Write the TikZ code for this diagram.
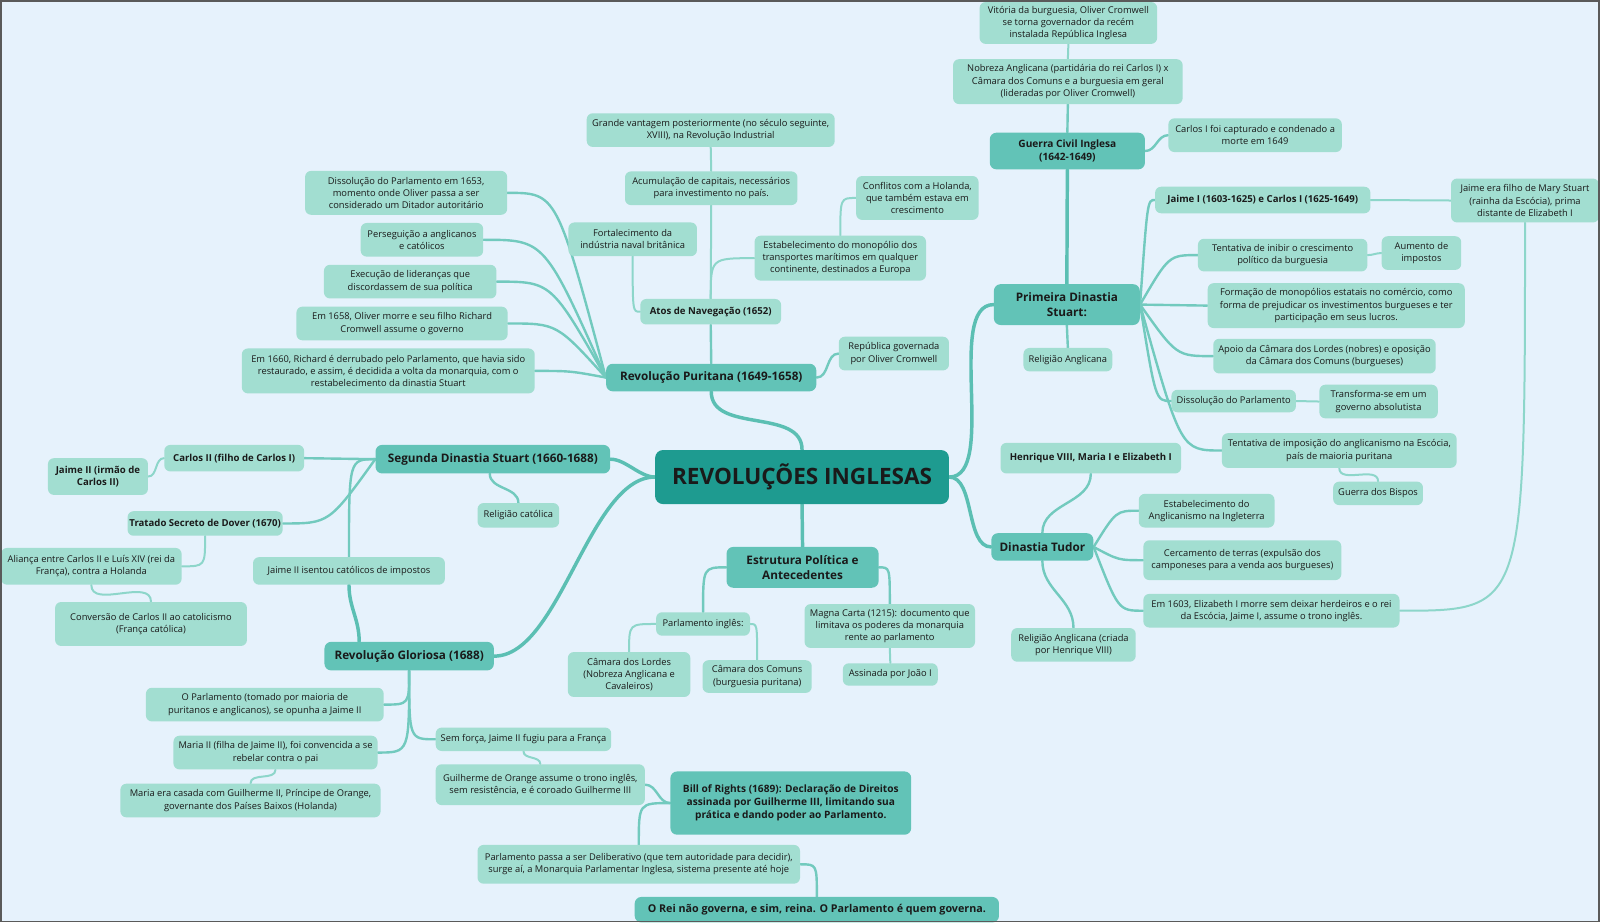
\documentclass[tikz,border=0pt]{standalone}
\usepackage{fontspec}
\setmainfont{Open Sans}
\usetikzlibrary{calc}
\definecolor{bgc}{HTML}{E6F2FC}
\definecolor{rootc}{HTML}{1E9B90}
\definecolor{mainc}{HTML}{62C3B7}
\definecolor{leafc}{HTML}{A2DED1}
\definecolor{lroot}{HTML}{5BBFB3}
\definecolor{lmain}{HTML}{72CABE}
\definecolor{lleaf}{HTML}{8DD6CA}
\definecolor{txt}{HTML}{1A1A1A}
\definecolor{framec}{HTML}{5A5A5A}
\pgfdeclarelayer{back}
\pgfdeclarelayer{lines}
\pgfsetlayers{back,lines,main}
\tikzset{
  sz/.style 2 args={minimum width={#1*0.7653pt}, minimum height={#2*0.7653pt}},
  box/.style={inner sep=0pt, align=center, text=txt},
  leaf/.style={box, fill=leafc, rounded corners=4.5pt, font=\fontsize{7}{9.2}\selectfont},
  leafb/.style={leaf, font=\fontsize{7.2}{9.4}\selectfont\bfseries},
  mainn/.style={box, fill=mainc, rounded corners=5pt, font=\fontsize{8.8}{11}\selectfont\bfseries},
  mainsb/.style={mainn, font=\fontsize{7.6}{9.8}\selectfont\bfseries},
  rootn/.style={box, fill=rootc, rounded corners=6pt, font=\fontsize{16.9}{20}\selectfont\bfseries},
  l0/.style={draw=lroot, line width=2.6pt, line cap=round},
  l1/.style={draw=lmain, line width=1.8pt, line cap=round},
  l2/.style={draw=lleaf, line width=1.5pt, line cap=round},
  vh/.style={to path={.. controls (\tikztostart |- \tikztotarget) .. (\tikztotarget) \tikztonodes}},
  hv/.style={to path={.. controls (\tikztotarget |- \tikztostart) .. (\tikztotarget) \tikztonodes}},
  xm/.style={to path={let \p1=(\tikztostart), \p2=(\tikztotarget) in .. controls ({0.5*\x1+0.5*\x2},\y2) .. (\tikztotarget) \tikztonodes}},
}
\begin{document}
\begin{tikzpicture}[x=0.7653pt,y=-0.7653pt]
\begin{pgfonlayer}{back}
\fill[bgc] (0,0) rectangle (1568,904);
\end{pgfonlayer}
\useasboundingbox (0,0) rectangle (1568,904);

% root
\node[rootn, sz={288}{53}] (root) at (786,467.5) {REVOLUÇÕES INGLESAS};

% main topics
\node[mainn, sz={206}{27}] (rp) at (697,370) {Revolução Puritana (1649-1658)};
\node[mainn, sz={230}{28}] (sds) at (483,450) {Segunda Dinastia Stuart (1660-1688)};
\node[mainn, sz={166}{28}] (rg) at (401,643) {Revolução Gloriosa (1688)};
\node[mainn, sz={149}{40}] (est) at (786.5,556) {Estrutura Política e\\Antecedentes};
\node[mainn, sz={100}{27}] (tud) at (1021.5,536) {Dinastia Tudor};
\node[mainn, sz={143}{40}] (pds) at (1045.5,298.5) {Primeira Dinastia\\Stuart:};
\node[mainsb, sz={152}{36}] (gci) at (1046,148) {Guerra Civil Inglesa\\(1642-1649)};
\node[mainsb, sz={236}{62}] (bill) at (775,787) {Bill of Rights (1689): Declaração de Direitos\\assinada por Guilherme III, limitando sua\\prática e dando poder ao Parlamento.};
\node[mainsb, sz={357}{25}, font=\fontsize{8.05}{9.8}\selectfont\bfseries] (rei) at (800.5,891.5) {O Rei não governa, e sim, reina. O Parlamento é quem governa.};

% Revolucao Puritana
\node[leafb, sz={138}{25}] (atos) at (696.5,305.5) {Atos de Navegação (1652)};
\node[leaf, sz={169}{33}] (acum) at (697,184.5) {Acumulação de capitais, necessários\\para investimento no país.};
\node[leaf, sz={243}{33}] (grande) at (696.5,127.5) {Grande vantagem posteriormente (no século seguinte,\\XVIII), na Revolução Industrial};
\node[leaf, sz={126}{33}] (fort) at (620,234.5) {Fortalecimento da\\indústria naval britânica};
\node[leaf, sz={168}{44}] (estm) at (823.5,253) {Estabelecimento do monopólio dos\\transportes marítimos em qualquer\\continente, destinados a Europa};
\node[leaf, sz={120}{43}] (conf) at (899,194) {Conflitos com a Holanda,\\que também estava em\\crescimento};
\node[leaf, sz={108}{33}] (rep) at (876,346.5) {República governada\\por Oliver Cromwell};
\node[leaf, sz={198}{43}] (diss) at (398,189) {Dissolução do Parlamento em 1653,\\momento onde Oliver passa a ser\\considerado um Ditador autoritário};
\node[leaf, sz={120}{33}] (pers) at (413.5,235) {Perseguição a anglicanos\\e católicos};
\node[leaf, sz={169}{33}] (exec) at (402,276) {Execução de lideranças que\\discordassem de sua política};
\node[leaf, sz={207}{33}] (em58) at (394,317) {Em 1658, Oliver morre e seu filho Richard\\Cromwell assume o governo};
\node[leaf, sz={287}{44}] (em60) at (380.5,363.5) {Em 1660, Richard é derrubado pelo Parlamento, que havia sido\\restaurado, e assim, é decidida a volta da monarquia, com o\\restabelecimento da dinastia Stuart};

% Segunda Dinastia Stuart
\node[leafb, sz={137}{26}] (c2) at (229.5,449) {Carlos II (filho de Carlos I)};
\node[leafb, sz={98}{36}] (j2) at (96,467) {Jaime II (irmão de\\Carlos II)};
\node[leafb, sz={152}{24}] (trat) at (201,513) {Tratado Secreto de Dover (1670)};
\node[leaf, sz={177}{36}] (alia) at (89.5,555) {Aliança entre Carlos II e Luís XIV (rei da\\França), contra a Holanda};
\node[leaf, sz={188}{43}] (conv) at (148,611.5) {Conversão de Carlos II ao catolicismo\\(França católica)};
\node[leaf, sz={188}{27}] (isen) at (342,559.5) {Jaime II isentou católicos de impostos};
\node[leaf, sz={80}{24}] (relc) at (508,505) {Religião católica};

% Revolucao Gloriosa
\node[leaf, sz={233}{33}] (opar) at (259.5,690.5) {O Parlamento (tomado por maioria de\\puritanos e anglicanos), se opunha a Jaime II};
\node[leaf, sz={200}{33}] (mar2) at (270,737.5) {Maria II (filha de Jaime II), foi convencida a se\\rebelar contra o pai};
\node[leaf, sz={255}{33}] (marc) at (245.5,784.5) {Maria era casada com Guilherme II, Príncipe de Orange,\\governante dos Países Baixos (Holanda)};
\node[leaf, sz={172}{23}] (semf) at (513,724.5) {Sem força, Jaime II fugiu para a França};
\node[leaf, sz={205}{40}] (guil) at (529.5,769) {Guilherme de Orange assume o trono inglês,\\sem resistência, e é coroado Guilherme III};
\node[leaf, sz={316}{38}] (delib) at (626,847) {Parlamento passa a ser Deliberativo (que tem autoridade para decidir),\\surge aí, a Monarquia Parlamentar Inglesa, sistema presente até hoje};

% Estrutura Politica
\node[leaf, sz={92}{23}] (parl) at (689,611.5) {Parlamento inglês:};
\node[leaf, sz={120}{44}] (lord) at (616.5,661) {Câmara dos Lordes\\(Nobreza Anglicana e\\Cavaleiros)};
\node[leaf, sz={107}{32}] (comu) at (742,663) {Câmara dos Comuns\\(burguesia puritana)};
\node[leaf, sz={167}{43}] (magna) at (872,613.5) {Magna Carta (1215): documento que\\limitava os poderes da monarquia\\rente ao parlamento};
\node[leaf, sz={93}{22}] (joao) at (872.5,661) {Assinada por João I};

% Dinastia Tudor
\node[leafb, sz={177}{30}] (henr) at (1069,449) {Henrique VIII, Maria I e Elizabeth I};
\node[leaf, sz={133}{33}] (estang) at (1182.5,500.5) {Estabelecimento do\\Anglicanismo na Ingleterra};
\node[leaf, sz={194}{39}] (cerc) at (1217.5,549) {Cercamento de terras (expulsão dos\\camponeses para a venda aos burgueses)};
\node[leaf, sz={251}{33}] (e1603) at (1246,598.5) {Em 1603, Elizabeth I morre sem deixar herdeiros e o rei\\da Escócia, Jaime I, assume o trono inglês.};
\node[leaf, sz={122}{33}] (relah) at (1052,632) {Religião Anglicana (criada\\por Henrique VIII)};

% Primeira Dinastia Stuart
\node[leaf, sz={87}{23}] (rela) at (1046.5,352.5) {Religião Anglicana};
\node[leafb, sz={211}{26}] (jc) at (1237.5,196) {Jaime I (1603-1625) e Carlos I (1625-1649)};
\node[leaf, sz={145}{43}] (jfil) at (1494.5,196.5) {Jaime era filho de Mary Stuart\\(rainha da Escócia), prima\\distante de Elizabeth I};
\node[leaf, sz={166}{32}] (tinib) at (1257,250) {Tentativa de inibir o crescimento\\político da burguesia};
\node[leaf, sz={78}{33}] (aum) at (1393,248) {Aumento de\\impostos};
\node[leaf, sz={252}{44}] (form) at (1309.5,299.5) {Formação de monopólios estatais no comércio, como\\forma de prejudicar os investimentos burgueses e ter\\participação em seus lucros.};
\node[leaf, sz={218}{34}] (apoio) at (1298,349) {Apoio da Câmara dos Lordes (nobres) e oposição\\da Câmara dos Comuns (burgueses)};
\node[leaf, sz={122}{22}] (dissp) at (1209,393) {Dissolução do Parlamento};
\node[leaf, sz={116}{33}] (transf) at (1351,393.5) {Transforma-se em um\\governo absolutista};
\node[leaf, sz={230}{34}] (timp) at (1312.5,441.5) {Tentativa de imposição do anglicanismo na Escócia,\\país de maioria puritana};
\node[leaf, sz={88}{23}] (gbis) at (1350.5,483.5) {Guerra dos Bispos};

% Guerra Civil
\node[leaf, sz={225}{44}] (nobr) at (1046.5,80) {Nobreza Anglicana (partidária do rei Carlos I) x\\Câmara dos Comuns e a burguesia em geral\\(lideradas por Oliver Cromwell)};
\node[leaf, sz={174}{41}] (vit) at (1047,22.5) {Vitória da burguesia, Oliver Cromwell\\se torna governador da recém\\instalada República Inglesa};
\node[leaf, sz={170}{33}] (carl) at (1230,132.5) {Carlos I foi capturado e condenado a\\morte em 1649};

\coordinate (sdsb) at ($(sds.south)+(-3,0)$);
\coordinate (rgn) at ($(rg.north)+(-49,0)$);

\begin{pgfonlayer}{lines}
% root links
\draw[l0] (root.north) to[out=90,in=-90] (rp.south);
\draw[l0] (root.west) to[out=180,in=0,looseness=0.8] (sds.east);
\draw[l0] (root.west) to[out=180,in=0,looseness=0.7] (rg.east);
\draw[l0] (root.south) -- (est.north);
\draw[l0] (root.east) to[out=0,in=180,looseness=0.7] (pds.west);
\draw[l0] (root.east) to[out=0,in=180,looseness=0.8] (tud.west);
% Revolucao Puritana
\draw[l1] (rp.north) -- (atos.south);
\draw[l1] (rp.east) to[out=0,in=180] (rep.west);
\foreach \kid in {diss,pers,exec,em58,em60} \draw[l1] (rp.west) to[xm] (\kid.east);
\draw[l2] (atos.north) -- (acum.south);
\draw[l2] (acum.north) -- (grande.south);
\draw[l2] (fort.south) to[vh] (atos.west);
\draw[l2] (atos.north) to[vh] (estm.west);
\draw[l2] (estm.north) to[vh] (conf.west);
% Segunda Dinastia Stuart
\draw[l1] (sds.west) to[xm] (c2.east);
\draw[l1] (sds.west) to[xm] (trat.east);
\draw[l1] (sds.west) to[hv] (isen.north);
\draw[l1] (sdsb) to[out=-90,in=90] (relc.north);
\draw[l2] (c2.west) to[out=180,in=0] (j2.east);
\draw[l2] (trat.south) to[vh] (alia.east);
\draw[l2] (alia.south) to[out=-90,in=90] (conv.north);
\draw[l0] (isen.south) to[out=-90,in=90] (rgn);
% Revolucao Gloriosa
\draw[l1] (rg.south) to[vh] (opar.east);
\draw[l1] (rg.south) to[vh] (mar2.east);
\draw[l1] (rg.south) to[vh] (semf.west);
\draw[l2] (mar2.south) to[out=-90,in=90] (marc.north);
\draw[l2] (semf.south) to[out=-90,in=90] (guil.north);
\draw[l1] (guil.east) to[out=0,in=180] (bill.west);
\draw[l1] (bill.west) to[hv] (delib.north);
\draw[l1] (delib.east) to[hv] (rei.north);
% Estrutura
\draw[l1] (est.west) to[hv] (parl.north);
\draw[l1] (est.east) to[hv] (magna.north);
\draw[l2] (parl.west) to[hv] (lord.north);
\draw[l2] (parl.east) to[hv] (comu.north);
\draw[l2] (magna.south) -- (joao.north);
% Tudor
\draw[l1] (tud.north) to[out=90,in=-90] (henr.south);
\foreach \kid in {estang,cerc,e1603} \draw[l1] (tud.east) to[xm] (\kid.west);
\draw[l1] (tud.south) to[out=-90,in=90] (relah.north);
\draw[l2] (e1603.east) to[hv] (jfil.south);
% Primeira Dinastia Stuart
\draw[l0] (pds.north) -- (gci.south);
\draw[l1] (pds.south) -- (rela.north);
\foreach \kid in {jc,tinib,form,apoio,dissp,timp} \draw[l1] (pds.east) to[xm] (\kid.west);
\draw[l2] (jc.east) -- (jfil.west);
\draw[l2] (tinib.east) to[out=0,in=180] (aum.west);
\draw[l2] (dissp.east) -- (transf.west);
\draw[l2] (timp.south) to[out=-90,in=90] (gbis.north);
% Guerra Civil
\draw[l1] (gci.north) -- (nobr.south);
\draw[l2] (nobr.north) -- (vit.south);
\draw[l1] (gci.east) to[out=0,in=180] (carl.west);
\end{pgfonlayer}

\draw[framec, line width=1.2pt] (0.8,0.8) rectangle (1567.2,903.2);
\end{tikzpicture}
\end{document}
